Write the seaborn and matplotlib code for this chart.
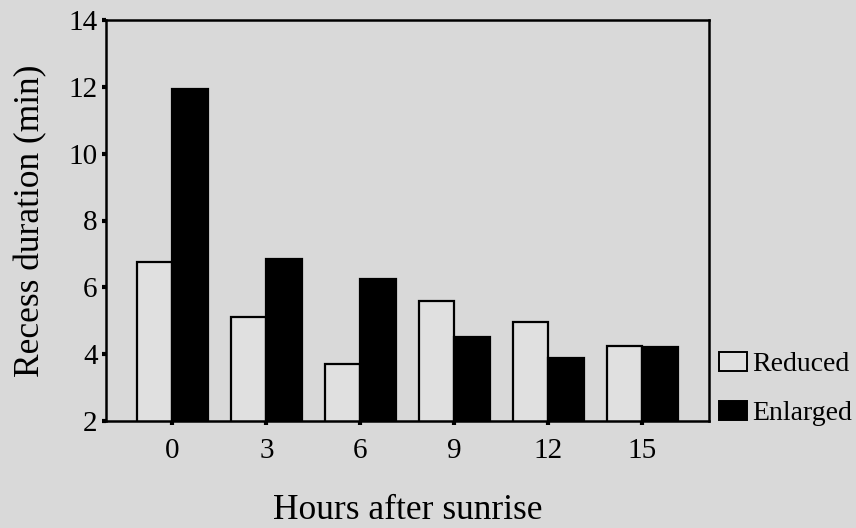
import matplotlib
matplotlib.use("Agg")
import matplotlib.pyplot as plt
import seaborn as sns
import pandas as pd
from matplotlib.patches import Patch

hours = ["0", "3", "6", "9", "12", "15"]
reduced = [6.75, 5.1, 3.7, 5.6, 4.95, 4.25]
enlarged = [11.95, 6.85, 6.25, 4.5, 3.9, 4.2]
groups = ["Reduced", "Enlarged"]

df = pd.DataFrame({
    "hour": hours * 2,
    "value": reduced + enlarged,
    "group": [groups[0]] * len(hours) + [groups[1]] * len(hours),
})

sns.set_theme(style="ticks")
plt.rcParams["font.family"] = ["Liberation Serif", "DejaVu Serif"]
plt.rcParams["text.color"] = "black"
plt.rcParams["axes.labelcolor"] = "black"

bg = "#d9d9d9"
fig = plt.figure(figsize=(8.56, 5.28), dpi=100, facecolor=bg)
ax = fig.add_axes([106/856, 1 - 421/528, (709-106)/856, (421-20)/528])
ax.set_facecolor(bg)

palette = {"Reduced": "#e0e0e0", "Enlarged": "#000000"}
sns.barplot(data=df, x="hour", y="value", hue="group", order=hours,
            hue_order=groups, palette=palette, width=0.76, gap=0,
            edgecolor="black", linewidth=1.6, ax=ax, legend=False,
            saturation=1)

ax.set_xlim(-0.707, 5.71)
ax.set_ylim(2, 14)
ax.set_yticks([2, 4, 6, 8, 10, 12, 14])
for s in ax.spines.values():
    s.set_visible(True)
    s.set_linewidth(1.8)
    s.set_color("black")
ax.tick_params(axis="both", direction="out", length=3, width=3,
               labelsize=21, colors="black")
ax.tick_params(axis="x", pad=9)
ax.tick_params(axis="y", pad=3)
ax.set_xlabel("Hours after sunrise", fontsize=25.5, labelpad=22, color="black")
ax.set_ylabel("Recess duration (min)", fontsize=25.5, labelpad=15, color="black")

handles = [Patch(facecolor=palette[g], edgecolor="black", linewidth=1.4, label=g)
           for g in groups]
leg = fig.legend(handles=handles, loc="center left", bbox_to_anchor=(719/856, 1 - 389/528),
                 frameon=False, fontsize=20, handlelength=1.0, handleheight=0.7,
                 handletextpad=0.18, labelspacing=0.85, borderpad=0, borderaxespad=0)
for t in leg.get_texts():
    t.set_color("black")

fig.savefig("out.png", dpi=100, facecolor=bg)
